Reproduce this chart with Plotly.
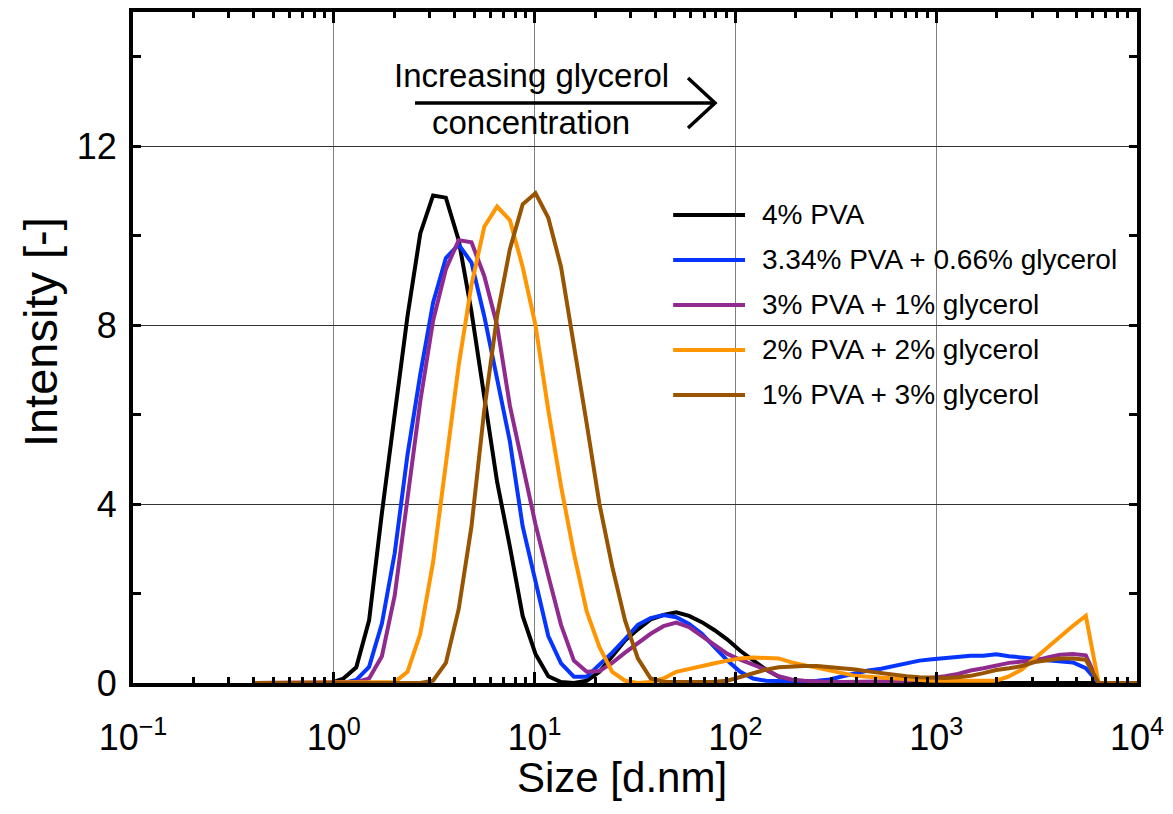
import plotly.graph_objects as go

# Size bins (d.nm)
sizes = [0.4, 0.4632, 0.5365, 0.6213, 0.7195, 0.8332, 0.9649, 1.117, 1.294, 1.499,
         1.736, 2.01, 2.328, 2.696, 3.122, 3.615, 4.187, 4.849, 5.615, 6.503,
         7.531, 8.721, 10.1, 11.7, 13.54, 15.69, 18.17, 21.04, 24.36, 28.21,
         32.67, 37.84, 43.82, 50.75, 58.77, 68.06, 78.82, 91.28, 105.7, 122.4,
         141.8, 164.2, 190.1, 220.2, 255.0, 295.3, 342.0, 396.1, 458.7, 531.2,
         615.1, 712.4, 825.0, 955.4, 1106, 1281, 1484, 1718, 1990, 2305,
         2669, 3091, 3580, 4145, 4801, 5560, 6439, 7456, 8635, 10000]

pva4 = [0, 0, 0, 0, 0, 0, 0, 0.1, 0.35, 1.4,
        3.8, 6.0, 8.2, 10.05, 10.9, 10.85, 9.9, 8.3, 6.4, 4.5,
        3.05, 1.5, 0.65, 0.15, 0.02, 0, 0.05, 0.25, 0.6, 0.95,
        1.2, 1.42, 1.52, 1.58, 1.5, 1.36, 1.18, 0.97, 0.72, 0.5,
        0.3, 0.14, 0.06, 0.02, 0, 0, 0, 0, 0, 0,
        0, 0, 0, 0, 0, 0, 0, 0, 0, 0,
        0, 0, 0, 0, 0, 0, 0, 0, 0, 0]

pva334_gly066 = [0, 0, 0, 0, 0, 0, 0, 0, 0.07, 0.36,
                 1.33, 2.9, 5.1, 6.9, 8.5, 9.5, 9.8, 9.4, 8.2, 6.8,
                 5.4, 3.5, 2.25, 1.05, 0.44, 0.14, 0.14, 0.4, 0.68, 0.98,
                 1.3, 1.45, 1.52, 1.47, 1.32, 1.1, 0.8, 0.5, 0.25, 0.1,
                 0.05, 0.04, 0.03, 0.03, 0.05, 0.08, 0.15, 0.22, 0.28, 0.32,
                 0.38, 0.45, 0.5, 0.53, 0.56, 0.6, 0.61, 0.61, 0.64, 0.6,
                 0.58, 0.54, 0.51, 0.49, 0.46, 0.33, 0, 0, 0, 0]

pva3_gly1 = [0, 0, 0, 0, 0, 0, 0, 0, 0.02, 0.1,
             0.6, 1.95, 4.2, 6.3, 8.1, 9.25, 9.9, 9.85, 9.1, 8.0,
             6.2, 4.9, 3.55, 2.4, 1.3, 0.5, 0.25, 0.27, 0.45, 0.68,
             0.9, 1.1, 1.27, 1.35, 1.25, 1.05, 0.85, 0.65, 0.52, 0.4,
             0.3, 0.15, 0.08, 0.05, 0.03, 0.02, 0.02, 0.02, 0.02, 0.03,
             0.04, 0.05, 0.08, 0.12, 0.15, 0.2, 0.28, 0.33, 0.4, 0.45,
             0.48, 0.5, 0.57, 0.63, 0.65, 0.62, 0, 0, 0, 0]

pva2_gly2 = [0, 0, 0, 0, 0, 0, 0, 0, 0, 0,
             0, 0.02, 0.25, 1.1, 2.7, 4.9, 7.1, 8.9, 10.2, 10.65,
             10.35, 9.3, 8.0, 6.1, 4.4, 2.9, 1.6, 0.8, 0.25, 0.05,
             0, 0.02, 0.1, 0.25, 0.32, 0.38, 0.44, 0.5, 0.55, 0.57,
             0.57, 0.55, 0.46, 0.4, 0.33, 0.27, 0.2, 0.16, 0.14, 0.12,
             0.1, 0.08, 0.06, 0.05, 0.05, 0.05, 0.05, 0.05, 0.05, 0.15,
             0.3, 0.55, 0.8, 1.05, 1.28, 1.5, 0, 0, 0, 0]

pva1_gly3 = [0, 0, 0, 0, 0, 0, 0, 0, 0, 0,
             0, 0, 0, 0, 0.05, 0.45, 1.65, 3.5, 6.1, 8.2,
             9.7, 10.7, 10.95, 10.4, 9.3, 7.6, 5.8, 4.0, 2.6, 1.4,
             0.55, 0.1, 0.03, 0.02, 0.02, 0.02, 0.03, 0.05, 0.13, 0.22,
             0.3, 0.35, 0.37, 0.38, 0.38, 0.36, 0.33, 0.3, 0.26, 0.22,
             0.18, 0.15, 0.13, 0.11, 0.11, 0.13, 0.16, 0.22, 0.29, 0.33,
             0.38, 0.47, 0.52, 0.55, 0.55, 0.52, 0, 0, 0, 0]

series_names = ["4% PVA", "3.34% PVA + 0.66% glycerol", "3% PVA + 1% glycerol",
                "2% PVA + 2% glycerol", "1% PVA + 3% glycerol"]
series_values = [pva4, pva334_gly066, pva3_gly1, pva2_gly2, pva1_gly3]
series_colors = ["#000000", "#0535FF", "#912A8F", "#FF9500", "#985400"]

x_tickvals = [0.1, 1, 10, 100, 1000, 10000]
x_ticktext = ["10<sup>\u22121</sup>", "10<sup>0</sup>", "10<sup>1</sup>",
              "10<sup>2</sup>", "10<sup>3</sup>", "10<sup>4</sup>"]
y_tickvals = [0, 4, 8, 12]
y_minor_tickvals = [2, 6, 10, 14]

FONT = "Liberation Sans, Arial, sans-serif"

fig = go.Figure()
for name, ys, color in zip(series_names, series_values, series_colors):
    fig.add_trace(go.Scatter(x=sizes, y=ys, mode="lines", name=name,
                             line=dict(color=color, width=4), showlegend=False))

# custom legend (long line samples)
shapes = []
annotations = []
leg_top = 0.6975
leg_step = 0.06706
for i, (name, color) in enumerate(zip(series_names, series_colors)):
    yy = leg_top - i * leg_step
    shapes.append(dict(type="line", xref="paper", yref="paper", x0=0.538, x1=0.6096,
                       y0=yy, y1=yy, line=dict(color=color, width=4)))
    annotations.append(dict(xref="paper", yref="paper", x=0.6245, y=yy, text=name,
                            showarrow=False, xanchor="left", yanchor="middle",
                            font=dict(size=28, color="black", family=FONT)))

# arrow annotation
shapes.append(dict(type="path", xref="paper", yref="paper",
                   path="M 0.2809,0.8644 L 0.5797,0.8644 M 0.5528,0.9016 L 0.5797,0.8644 L 0.5528,0.8271",
                   line=dict(color="black", width=3.5)))
annotations.append(dict(xref="paper", yref="paper", x=0.3965, y=0.905, text="Increasing glycerol",
                        showarrow=False, xanchor="center", yanchor="middle",
                        font=dict(size=33, color="black", family=FONT)))
annotations.append(dict(xref="paper", yref="paper", x=0.3966, y=0.835, text="concentration",
                        showarrow=False, xanchor="center", yanchor="middle",
                        font=dict(size=33, color="black", family=FONT)))

# axis titles
annotations.append(dict(xref="paper", yref="paper", x=0.487, y=-0.141, text="Size [d.nm]",
                        showarrow=False, xanchor="center", yanchor="middle",
                        font=dict(size=42, color="black", family=FONT)))
annotations.append(dict(xref="paper", yref="paper", x=-0.0926, y=0.523, text="Intensity [-]",
                        showarrow=False, xanchor="center", yanchor="middle", textangle=-90,
                        font=dict(size=47, color="black", family=FONT)))

# the page body adds an 8px offset; compensate in the margins
fig.update_layout(
    width=1173, height=814,
    margin=dict(l=125, r=44, t=4, b=139, autoexpand=False),
    plot_bgcolor="white", paper_bgcolor="white",
    font=dict(family=FONT, color="black"),
    shapes=shapes, annotations=annotations,
    showlegend=False,
)

fig.update_xaxes(
    type="log", range=[-1, 4],
    tickmode="array", tickvals=x_tickvals, ticktext=x_ticktext,
    ticks="inside", ticklen=11, tickwidth=3, tickcolor="black",
    minor=dict(dtick="D1", ticks="inside", ticklen=6, tickwidth=3, tickcolor="black", showgrid=False),
    showline=True, linewidth=4, linecolor="black", mirror="allticks",
    showgrid=True, gridcolor="#808080", gridwidth=1,
    tickfont=dict(size=36, family=FONT, color="black"),
    ticklabelstandoff=20,
    zeroline=False,
)
fig.update_yaxes(
    range=[0, 15],
    tickmode="array", tickvals=y_tickvals,
    ticks="inside", ticklen=8, tickwidth=3, tickcolor="black",
    minor=dict(tickmode="array", tickvals=y_minor_tickvals, ticks="inside", ticklen=8, tickwidth=3,
               tickcolor="black", showgrid=False),
    showline=True, linewidth=4, linecolor="black", mirror="allticks",
    showgrid=True, gridcolor="#333333", gridwidth=1,
    tickfont=dict(size=36, family=FONT, color="black"),
    ticklabelstandoff=5,
    zeroline=False,
)

fig.write_html("out.html")
